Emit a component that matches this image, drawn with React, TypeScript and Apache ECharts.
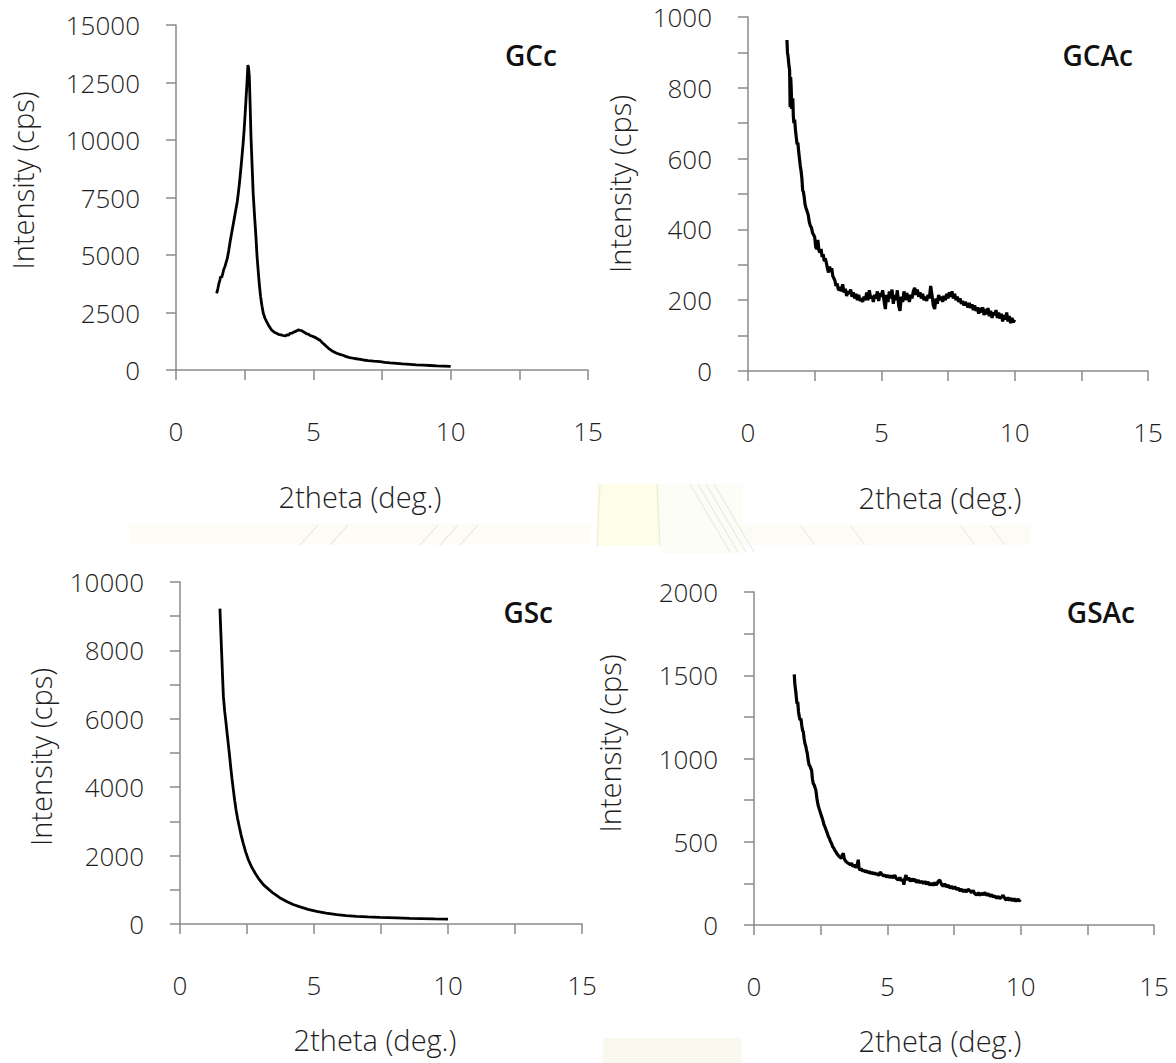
import React, { useEffect, useRef } from "react";
import * as echarts from "echarts";

// ---- data (2theta in deg., intensity in cps) ----
const gccData: number[][] = [
  [1.48, 3330], [1.52, 3520], [1.56, 3750], [1.6, 3910], [1.62, 4060], [1.66, 4020], [1.7, 4180], [1.74, 4380],
  [1.78, 4490], [1.83, 4700], [1.87, 4860], [1.92, 5200], [1.97, 5580], [2.03, 5980], [2.09, 6380], [2.16, 6850],
  [2.23, 7320], [2.27, 7700], [2.31, 8120], [2.35, 8600], [2.39, 9130], [2.44, 9800], [2.48, 10430], [2.51, 11000],
  [2.54, 11590], [2.57, 12200], [2.6, 12830], [2.62, 13260], [2.645, 13100], [2.67, 12750], [2.7, 11500], [2.73, 10150],
  [2.77, 8900], [2.81, 7680], [2.86, 6700], [2.91, 5800], [2.95, 4950], [3.0, 4200], [3.04, 3650], [3.08, 3190],
  [3.13, 2780], [3.18, 2460], [3.24, 2250], [3.3, 2100], [3.38, 1920], [3.48, 1740], [3.58, 1640], [3.66, 1600],
  [3.73, 1550], [3.82, 1530], [3.9, 1500], [3.97, 1480], [4.05, 1530], [4.1, 1510], [4.15, 1590], [4.22, 1600],
  [4.3, 1660], [4.38, 1690], [4.45, 1740], [4.52, 1720], [4.58, 1710], [4.65, 1650], [4.7, 1620], [4.76, 1570],
  [4.82, 1560], [4.88, 1500], [4.94, 1480], [5.0, 1450], [5.06, 1420], [5.12, 1380], [5.18, 1330], [5.24, 1300],
  [5.3, 1220], [5.36, 1150], [5.42, 1090], [5.5, 1000], [5.58, 920], [5.67, 840], [5.76, 780], [5.85, 730],
  [5.97, 680], [6.1, 630], [6.2, 580], [6.33, 540], [6.5, 500], [6.65, 470], [6.82, 435], [7.0, 410],
  [7.2, 385], [7.43, 360], [7.6, 330], [7.8, 310], [8.03, 290], [8.25, 265], [8.52, 245], [8.75, 225],
  [9.0, 210], [9.25, 195], [9.5, 180], [9.75, 170], [10.0, 160],
];

const gcacData: number[][] = [
  [1.46, 935], [1.48, 900], [1.5, 890], [1.52, 875], [1.54, 860], [1.56, 850], [1.58, 745], [1.6, 830],
  [1.62, 800], [1.64, 740], [1.66, 760], [1.68, 770], [1.7, 720], [1.72, 700], [1.75, 710], [1.78, 680],
  [1.81, 660], [1.84, 640], [1.87, 645], [1.9, 620], [1.93, 600], [1.96, 580], [1.99, 565], [2.02, 545],
  [2.05, 510], [2.08, 505], [2.11, 490], [2.14, 470], [2.17, 462], [2.2, 455], [2.23, 448], [2.26, 440],
  [2.3, 420], [2.34, 410], [2.38, 405], [2.42, 390], [2.46, 385], [2.5, 378], [2.54, 350], [2.58, 345],
  [2.62, 370], [2.66, 340], [2.7, 335], [2.74, 345], [2.78, 322], [2.82, 330], [2.86, 310], [2.9, 318],
  [2.94, 305], [2.98, 290], [3.02, 278], [3.06, 295], [3.1, 280], [3.14, 290], [3.18, 268], [3.22, 262],
  [3.26, 255], [3.3, 240], [3.34, 248], [3.38, 232], [3.42, 228], [3.46, 238], [3.5, 225], [3.55, 245],
  [3.6, 222], [3.65, 232], [3.7, 212], [3.75, 225], [3.8, 218], [3.85, 230], [3.9, 210], [3.95, 222],
  [4.0, 205], [4.05, 218], [4.1, 200], [4.15, 215], [4.2, 198], [4.25, 205], [4.3, 195], [4.35, 210],
  [4.4, 200], [4.45, 222], [4.5, 200], [4.55, 228], [4.6, 205], [4.65, 212], [4.7, 195], [4.75, 215],
  [4.8, 205], [4.85, 225], [4.9, 198], [4.95, 220], [5.0, 210], [5.05, 228], [5.1, 200], [5.15, 175],
  [5.2, 215], [5.25, 195], [5.3, 225], [5.35, 205], [5.4, 230], [5.45, 190], [5.5, 215], [5.55, 200],
  [5.6, 228], [5.65, 185], [5.7, 170], [5.75, 210], [5.8, 195], [5.85, 225], [5.9, 200], [5.95, 220],
  [6.0, 210], [6.05, 195], [6.1, 215], [6.15, 205], [6.2, 225], [6.25, 235], [6.3, 215], [6.35, 230],
  [6.4, 210], [6.45, 222], [6.5, 205], [6.55, 218], [6.6, 200], [6.65, 210], [6.7, 198], [6.75, 215],
  [6.8, 205], [6.85, 240], [6.9, 215], [6.95, 185], [7.0, 175], [7.05, 205], [7.1, 190], [7.15, 215],
  [7.2, 200], [7.25, 210], [7.3, 195], [7.35, 212], [7.4, 200], [7.45, 218], [7.5, 205], [7.55, 222],
  [7.6, 210], [7.65, 225], [7.7, 205], [7.75, 218], [7.8, 200], [7.85, 210], [7.9, 195], [7.95, 205],
  [8.0, 190], [8.05, 198], [8.1, 185], [8.15, 195], [8.2, 188], [8.25, 180], [8.3, 192], [8.35, 178],
  [8.4, 188], [8.45, 172], [8.5, 185], [8.55, 170], [8.6, 180], [8.65, 162], [8.7, 178], [8.75, 165],
  [8.8, 180], [8.85, 158], [8.9, 175], [8.95, 160], [9.0, 178], [9.05, 155], [9.1, 170], [9.15, 150],
  [9.2, 165], [9.25, 158], [9.3, 172], [9.35, 150], [9.4, 165], [9.45, 148], [9.5, 162], [9.55, 140],
  [9.6, 158], [9.65, 145], [9.7, 165], [9.75, 140], [9.8, 155], [9.85, 135], [9.9, 150], [9.95, 138],
  [10.0, 145],
];

const gscData: number[][] = [
  [1.49, 9220], [1.52, 8600], [1.56, 7810], [1.59, 7200], [1.62, 6640], [1.67, 6200], [1.72, 5860], [1.76, 5560],
  [1.8, 5280], [1.85, 4920], [1.89, 4600], [1.94, 4250], [1.99, 3920], [2.04, 3620], [2.09, 3340], [2.15, 3080],
  [2.21, 2850], [2.28, 2600], [2.36, 2360], [2.45, 2110], [2.55, 1880], [2.67, 1670], [2.8, 1490], [2.95, 1310],
  [3.11, 1150], [3.3, 1020], [3.48, 900], [3.72, 770], [3.98, 660], [4.22, 570], [4.48, 500], [4.78, 430],
  [5.1, 370], [5.45, 320], [5.85, 275], [6.2, 245], [6.59, 225], [7.0, 210], [7.46, 195], [8.09, 178],
  [8.58, 165], [9.0, 158], [9.5, 150], [10.0, 145],
];

const gsacData: number[][] = [
  [1.51, 1505], [1.53, 1450], [1.56, 1410], [1.58, 1380], [1.61, 1330], [1.64, 1340], [1.67, 1280], [1.7, 1250],
  [1.73, 1230], [1.76, 1240], [1.79, 1200], [1.82, 1170], [1.85, 1160], [1.88, 1120], [1.91, 1090], [1.94, 1075],
  [1.97, 1050], [2.0, 1030], [2.03, 990], [2.07, 960], [2.1, 955], [2.13, 940], [2.16, 930], [2.19, 880],
  [2.22, 850], [2.26, 840], [2.29, 825], [2.32, 810], [2.36, 760], [2.39, 730], [2.42, 710], [2.46, 690],
  [2.5, 670], [2.54, 650], [2.58, 630], [2.62, 605], [2.66, 590], [2.7, 572], [2.74, 555], [2.79, 530],
  [2.83, 520], [2.87, 500], [2.91, 490], [2.95, 470], [2.99, 462], [3.03, 448], [3.07, 440], [3.11, 428],
  [3.15, 420], [3.19, 412], [3.23, 408], [3.27, 400], [3.31, 420], [3.35, 430], [3.39, 395], [3.43, 385],
  [3.47, 378], [3.52, 372], [3.57, 368], [3.62, 360], [3.66, 372], [3.71, 350], [3.76, 362], [3.81, 345],
  [3.86, 355], [3.91, 392], [3.94, 340], [3.98, 330], [4.03, 338], [4.08, 322], [4.13, 330], [4.18, 318],
  [4.23, 326], [4.28, 312], [4.33, 322], [4.38, 308], [4.43, 318], [4.48, 305], [4.53, 315], [4.58, 302],
  [4.63, 310], [4.68, 296], [4.73, 318], [4.79, 305], [4.85, 295], [4.91, 300], [4.97, 288], [5.03, 298],
  [5.09, 285], [5.15, 295], [5.22, 282], [5.28, 300], [5.34, 278], [5.41, 270], [5.47, 285], [5.53, 265],
  [5.58, 275], [5.62, 242], [5.66, 280], [5.7, 300], [5.75, 270], [5.8, 285], [5.86, 262], [5.92, 278],
  [5.97, 265], [6.03, 275], [6.09, 255], [6.15, 270], [6.21, 255], [6.29, 262], [6.35, 248], [6.41, 262],
  [6.47, 245], [6.53, 258], [6.6, 240], [6.66, 250], [6.72, 238], [6.78, 255], [6.84, 240], [6.9, 260],
  [6.97, 270], [7.03, 245], [7.09, 232], [7.15, 248], [7.22, 228], [7.28, 240], [7.34, 222], [7.4, 232],
  [7.47, 218], [7.53, 230], [7.6, 212], [7.66, 222], [7.72, 205], [7.78, 215], [7.85, 200], [7.91, 212],
  [7.97, 198], [8.03, 215], [8.1, 205], [8.16, 195], [8.22, 208], [8.28, 188], [8.35, 180], [8.41, 195],
  [8.47, 178], [8.53, 190], [8.6, 182], [8.66, 195], [8.72, 178], [8.78, 188], [8.85, 172], [8.91, 182],
  [8.97, 168], [9.03, 175], [9.1, 160], [9.16, 172], [9.22, 158], [9.28, 168], [9.34, 178], [9.4, 160],
  [9.46, 150], [9.52, 165], [9.58, 148], [9.64, 160], [9.7, 145], [9.76, 158], [9.82, 142], [9.88, 155],
  [9.94, 145], [10.0, 152],
];

const sampleNames = ["GCc", "GCAc", "GSc", "GSAc"];
const yMaxes = [15000, 1000, 10000, 2000];
const yTickSteps = [2500, 100, 1000, 250];
const yLabelSteps = [2500, 200, 2000, 500];
const xTickStep = 2.5;
const xLabelStep = 5;
const xMax = 15;
const xTitle = "2theta (deg.)";
const yTitle = "Intensity (cps)";

const FONT = "'Open Sans', 'Noto Sans', sans-serif";
const AXIS_COLOR = "#8a8a8a";
const TEXT_COLOR = "#1e1e1e";

export default function App() {
  const ref = useRef<HTMLDivElement>(null);

  useEffect(() => {
    if (!ref.current) return;
    const chart = echarts.init(ref.current, undefined, { renderer: "svg" });

    const grids = [
      { left: 176, top: 25, width: 412, height: 345 },
      { left: 748, top: 17, width: 400, height: 354 },
      { left: 180, top: 582, width: 402, height: 342 },
      { left: 754, top: 592, width: 400, height: 333 },
    ];
    const xNameGap = [112, 112, 101, 101];
    const xNamePad = [
      [0, 44, 0, 0],
      [0, 16, 0, 0],
      [0, 12, 0, 0],
      [0, 28, 0, 0],
    ];
    const yNameGap = [139, 114, 125, 130];
    const yNamePad = [
      [0, 0, 0, 34],
      [0, 0, 0, 20],
      [0, 8, 0, 0],
      [0, 0, 0, 30],
    ];
    const allData = [gccData, gcacData, gscData, gsacData];
    const tagPos = [
      [557, 55],
      [1133, 55],
      [553, 612],
      [1135, 612],
    ];

    const axisLineStyle = { color: AXIS_COLOR, width: 1.5 };
    const wmLine = (x1: number, y1: number, x2: number, y2: number) => ({
      type: "line",
      shape: { x1, y1, x2, y2 },
      style: { stroke: "#ecebdf", lineWidth: 1.2 },
      z: -9,
      silent: true,
    });

    const option: any = {
      animation: false,
      backgroundColor: "#ffffff",
      grid: grids.map((g) => ({ ...g, containLabel: false })),
      xAxis: grids.map((_, i) => ({
        type: "value",
        gridIndex: i,
        min: 0,
        max: xMax,
        interval: xTickStep,
        axisLine: { show: true, onZero: false, lineStyle: axisLineStyle },
        axisTick: { show: true, length: 10, lineStyle: axisLineStyle },
        splitLine: { show: false },
        axisLabel: {
          margin: 48,
          fontSize: 26,
          fontFamily: FONT,
          fontWeight: 300,
          color: TEXT_COLOR,
          showMinLabel: true,
          showMaxLabel: true,
          formatter: (v: number) => (Math.abs(v % xLabelStep) < 1e-9 ? String(v) : ""),
        },
        name: xTitle,
        nameLocation: "middle",
        nameGap: xNameGap[i],
        nameTextStyle: {
          fontSize: 29,
          fontFamily: FONT,
          fontWeight: 300,
          color: TEXT_COLOR,
          padding: xNamePad[i],
        },
      })),
      yAxis: grids.map((_, i) => ({
        type: "value",
        gridIndex: i,
        min: 0,
        max: yMaxes[i],
        interval: yTickSteps[i],
        axisLine: { show: true, lineStyle: axisLineStyle },
        axisTick: { show: true, length: 10, lineStyle: axisLineStyle },
        splitLine: { show: false },
        axisLabel: {
          margin: 36,
          fontSize: 26,
          fontFamily: FONT,
          fontWeight: 300,
          color: TEXT_COLOR,
          showMinLabel: true,
          showMaxLabel: true,
          formatter: (v: number) => (v % yLabelSteps[i] === 0 ? String(v) : ""),
        },
        name: yTitle,
        nameLocation: "middle",
        nameRotate: 90,
        nameGap: yNameGap[i],
        nameTextStyle: {
          fontSize: 29,
          fontFamily: FONT,
          fontWeight: 300,
          color: TEXT_COLOR,
          padding: yNamePad[i],
        },
      })),
      series: allData.map((d, i) => ({
        type: "line",
        name: sampleNames[i],
        xAxisIndex: i,
        yAxisIndex: i,
        data: d,
        symbol: "none",
        showSymbol: false,
        smooth: false,
        lineStyle: { color: "#000000", width: i === 1 || i === 3 ? 3.2 : 2.8 },
        z: 3,
      })),
      graphic: [
        // faint scanned-page watermark remnants
        { type: "rect", shape: { x: 130, y: 524, width: 460, height: 21 }, style: { fill: "#fdfcf5" }, z: -10, silent: true },
        { type: "rect", shape: { x: 597, y: 484, width: 63, height: 62 }, style: { fill: "#fefde9" }, z: -10, silent: true },
        { type: "rect", shape: { x: 660, y: 484, width: 83, height: 70 }, style: { fill: "#fdfdf8" }, z: -10, silent: true },
        { type: "rect", shape: { x: 743, y: 525, width: 287, height: 20 }, style: { fill: "#fdfcf4" }, z: -10, silent: true },
        { type: "rect", shape: { x: 603, y: 1038, width: 139, height: 25 }, style: { fill: "#fbf9ee" }, z: -10, silent: true },
        wmLine(600, 484, 597, 546),
        wmLine(657, 484, 660, 546),
        wmLine(690, 484, 730, 552),
        wmLine(698, 484, 738, 552),
        wmLine(706, 484, 746, 552),
        wmLine(714, 484, 754, 552),
        wmLine(800, 525, 815, 545),
        wmLine(850, 525, 865, 545),
        wmLine(960, 525, 975, 545),
        wmLine(990, 525, 1005, 545),
        wmLine(300, 545, 318, 525),
        wmLine(330, 545, 348, 525),
        wmLine(420, 545, 438, 525),
        wmLine(440, 545, 458, 525),
        wmLine(460, 545, 478, 525),
        ...sampleNames.map((n, i) => ({
          type: "text",
          x: tagPos[i][0],
          y: tagPos[i][1],
          style: {
            text: n,
            align: "right",
            verticalAlign: "middle",
            fontSize: 28,
            fontWeight: 600,
            fontFamily: FONT,
            fill: "#111111",
          },
        })),
      ],
    };

    chart.setOption(option);
    return () => chart.dispose();
  }, []);

  return (
    <div
      ref={ref}
      style={{ position: "absolute", left: 0, top: 0, width: 1176, height: 1063, background: "#fff" }}
    />
  );
}
